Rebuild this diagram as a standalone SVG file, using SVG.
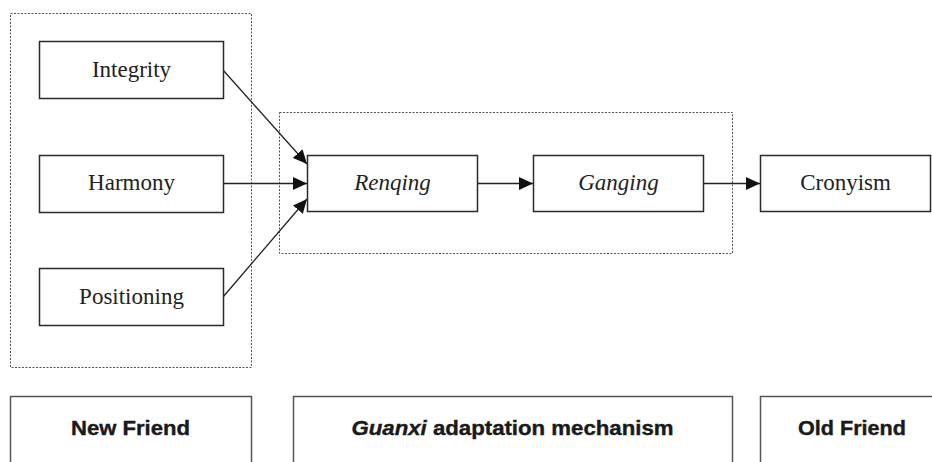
<svg xmlns="http://www.w3.org/2000/svg" width="932" height="462" viewBox="0 0 932 462">
  <style>
    .node rect { fill: #ffffff; stroke: #2a2a2a; stroke-width: 1.5; }
    .group { fill: none; stroke: #555555; stroke-width: 1; stroke-dasharray: 2 1.5; }
    .label { font-family: "Liberation Serif", "Times New Roman", serif; font-size: 23px; fill: #222222; text-anchor: middle; }
    .it { font-style: italic; }
    .band rect { fill: #ffffff; stroke: #555555; stroke-width: 1.5; }
    .band text { font-family: "Liberation Sans", Arial, sans-serif; font-weight: bold; font-size: 21px; fill: #1a1a1a; stroke: #1a1a1a; stroke-width: 0.4; text-anchor: middle; }
    .edge { fill: none; stroke: #222222; stroke-width: 1.3; marker-end: url(#arrow); }
  </style>
  <defs>
    <marker id="arrow" markerUnits="userSpaceOnUse" markerWidth="15" markerHeight="13" refX="14" refY="6.5" orient="auto">
      <path d="M0,0 L14,6.5 L0,13 Z" fill="#111111"/>
    </marker>
  </defs>

  <rect width="932" height="462" fill="#ffffff"/>

  <!-- dotted grouping frames -->
  <rect class="group" x="10.5" y="13.5" width="241" height="354"/>
  <rect class="group" x="279.5" y="112.5" width="453" height="141"/>

  <!-- connectors -->
  <g id="connectors">
    <line class="edge" x1="223" y1="70" x2="307" y2="164"/>
    <line class="edge" x1="223" y1="183.5" x2="307" y2="183.5"/>
    <line class="edge" x1="223" y1="297" x2="307" y2="199"/>
    <line class="edge" x1="477" y1="183.5" x2="533" y2="183.5"/>
    <line class="edge" x1="703" y1="183.5" x2="760" y2="183.5"/>
  </g>

  <!-- factor nodes -->
  <g id="integrity" class="node">
    <rect x="39.5" y="41.5" width="184" height="57"/>
    <text class="label" x="131.5" y="77">Integrity</text>
  </g>
  <g id="harmony" class="node">
    <rect x="39.5" y="155.5" width="184" height="57"/>
    <text class="label" x="131.5" y="190">Harmony</text>
  </g>
  <g id="positioning" class="node">
    <rect x="39.5" y="268.5" width="184" height="57"/>
    <text class="label" x="131.5" y="304">Positioning</text>
  </g>

  <!-- mechanism nodes -->
  <g id="renqing" class="node">
    <rect x="307.5" y="155.5" width="170" height="56"/>
    <text class="label it" x="392.5" y="190">Renqing</text>
  </g>
  <g id="ganging" class="node">
    <rect x="533.5" y="155.5" width="170" height="56"/>
    <text class="label it" x="618.5" y="190">Ganging</text>
  </g>

  <!-- outcome node -->
  <g id="cronyism" class="node">
    <rect x="760.5" y="155.5" width="170" height="56"/>
    <text class="label" x="845.5" y="190">Cronyism</text>
  </g>

  <!-- phase bands along the bottom -->
  <g id="band-new-friend" class="band">
    <rect x="10.5" y="396.5" width="241" height="80"/>
    <text x="130.5" y="435" textLength="119" lengthAdjust="spacingAndGlyphs">New Friend</text>
  </g>
  <g id="band-guanxi" class="band">
    <rect x="293.5" y="396.5" width="439" height="80"/>
    <text x="512.5" y="435" textLength="322" lengthAdjust="spacingAndGlyphs"><tspan font-style="italic">Guanxi</tspan> adaptation mechanism</text>
  </g>
  <g id="band-old-friend" class="band">
    <rect x="760.5" y="396.5" width="190" height="80"/>
    <text x="852" y="435" textLength="108" lengthAdjust="spacingAndGlyphs">Old Friend</text>
  </g>
</svg>
